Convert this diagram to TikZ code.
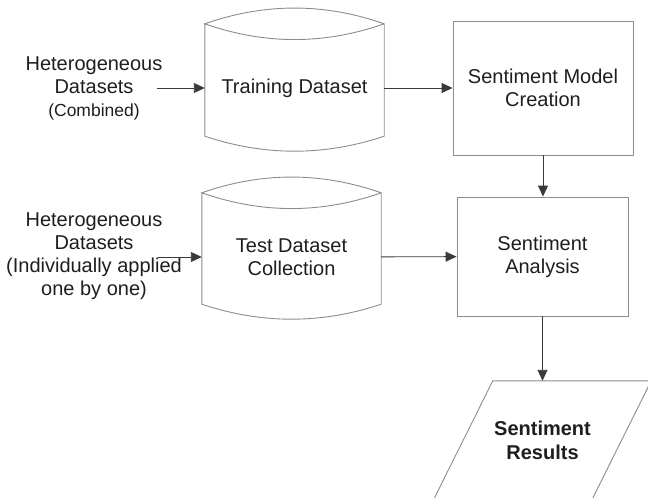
\documentclass[tikz,border=0pt]{standalone}
\usepackage{fontspec}
\setmainfont{Liberation Sans}
\usetikzlibrary{arrows.meta}

\definecolor{boxgray}{HTML}{8C8C8C}
\definecolor{linegray}{HTML}{3A3A3A}
\definecolor{textgray}{HTML}{1E1E1E}

\begin{document}
\begin{tikzpicture}[x=1pt,y=-1pt,
    every node/.style={align=center,text=textgray,inner sep=0pt,font=\fontsize{20}{23}\selectfont},
    outline/.style={draw=boxgray,line width=0.9pt},
    flow/.style={draw=linegray,line width=0.9pt,-{Triangle[length=11pt,width=10pt]}}]

    % page frame, also crops the output box at the bottom
    \clip (0,0) rectangle (648,498);

    % input texts
    \node (hetA) at (94,88) {Heterogeneous\\Datasets\\{\fontsize{17.5}{22}\selectfont(Combined)}};
    \node (hetB) at (94,256) {Heterogeneous\\Datasets\\(Individually applied\\one by one)};
    \coordinate (tailA) at (157,88);
    \coordinate (tailB) at (158,257);

    % data stores
    \node (train) at (294.5,88) [minimum width=179pt,minimum height=96pt] {Training Dataset};
    \node (test) at (291.5,257) [minimum width=179pt,minimum height=94pt] {Test Dataset\\Collection};

    \draw[outline] ([yshift=16pt]train.north west) -- (train.south west)
        .. controls +(60,20) and +(-60,20) .. (train.south east)
        -- ([yshift=16pt]train.north east)
        .. controls +(-60,-21) and +(60,-21) .. ([yshift=16pt]train.north west)
        .. controls +(60,21) and +(-60,21) .. ([yshift=16pt]train.north east);
    \draw[outline] ([yshift=17pt]test.north west) -- (test.south west)
        .. controls +(60,20) and +(-60,20) .. (test.south east)
        -- ([yshift=17pt]test.north east)
        .. controls +(-60,-21) and +(60,-21) .. ([yshift=17pt]test.north west)
        .. controls +(60,21) and +(-60,21) .. ([yshift=17pt]test.north east);

    % process boxes
    \node (model) at (543,88) [outline,minimum width=180pt,minimum height=134pt] {Sentiment Model\\Creation};
    \node (analysis) at (542.5,256.5) [outline,minimum width=171pt,minimum height=119pt] {Sentiment\\Analysis};

    % output
    \node (result) at (542.5,440) [minimum width=158pt,minimum height=118pt,font=\bfseries\fontsize{20}{24}\selectfont] {Sentiment\\Results};
    \draw[outline] ([xshift=29.5pt]result.north west) -- ([xshift=29.5pt]result.north east)
        -- ([xshift=-29.5pt]result.south east) -- ([xshift=-29.5pt]result.south west) -- cycle;

    % arrows
    \draw[flow] (tailA) -- (train);
    \draw[flow] (tailB) -- (test);
    \draw[flow] (train) -- (model);
    \draw[flow] (test) -- (analysis);
    \draw[flow] (model.south) -- (model.south |- analysis.north);
    \draw[flow] (analysis.south) -- (result.north);

\end{tikzpicture}
\end{document}
